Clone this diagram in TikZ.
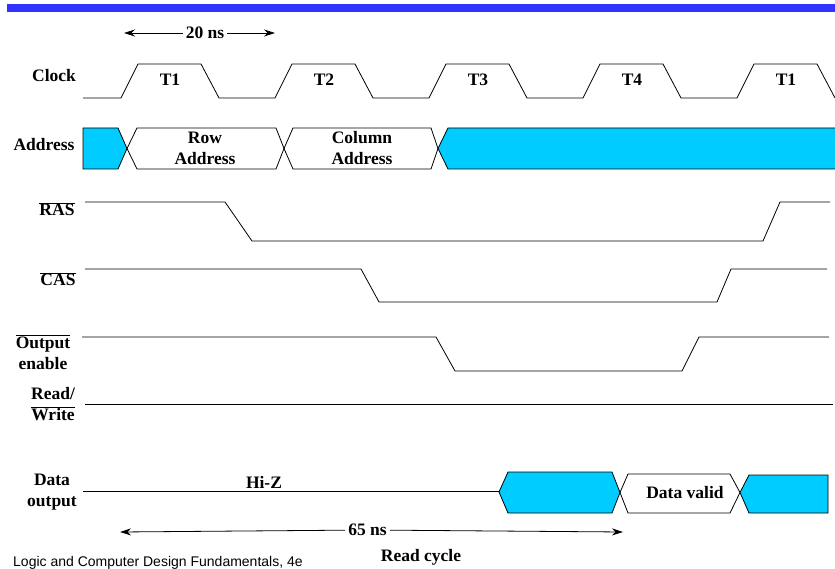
\documentclass[tikz,border=0pt]{standalone}
\usepackage{fontspec}
\setmainfont{Liberation Serif}
\newfontfamily\footfont{Liberation Sans}
\usepackage{tikz}
\usetikzlibrary{shapes,arrows,arrows.meta}
\definecolor{busblue}{RGB}{0,204,255}
\definecolor{barblue}{RGB}{51,51,255}
\tikzstyle{sig} = [line width=0.8pt]
\tikzstyle{bus} = [draw=black, line width=0.8pt, fill=busblue]
\tikzstyle{lbl} = [font=\bfseries\fontsize{17.5}{21}\selectfont, align=center, inner sep=3pt]
\tikzstyle{arrow} = [line width=0.8pt, -{Stealth[length=11pt,width=7pt]}]

\begin{document}
\begin{tikzpicture}[x=1pt,y=-1pt]

\useasboundingbox (0,0) rectangle (835,569);
\fill [barblue] (7,4) rectangle (835,12);

% signal names
\node (clk) [lbl] at (54,76) {Clock};
\node (addr) [lbl] at (44,145) {Address};
\node (ras) [lbl] at (57,209) {$\overline{\mbox{RAS}}$};
\node (cas) [lbl] at (58,279) {$\overline{\mbox{CAS}}$};
\node (oe) [lbl] at (43,352) {$\overline{\mbox{Output}}$\\enable};
\node (rw) [lbl] at (53,404) {Read/\\$\overline{\mbox{Write}}$};
\node (dout) [lbl] at (52,492) {Data\\output};

% clock
\draw [sig] (83,98) \foreach \t in {121,275,429,583,737} { -- (\t,98) -- (\t+17,64) -- (\t+80,64) -- (\t+98,98) };
\foreach \t/\n in {121/T1,275/T2,429/T3,583/T4,737/T1}
  \node [lbl] at (\t+49,80) {\n};

% 20 ns
\node (ns20) [lbl] at (205,33) {20 ns};
\coordinate (ns20a) at (124,33);
\coordinate (ns20b) at (275,33);
\draw [arrow] (ns20) -- (ns20a);
\draw [arrow] (ns20) -- (ns20b);

% address
\draw [bus] (83,128) -- (118,128) -- (127,148.5) -- (118,169) -- (83,169) -- cycle;
\draw [sig] (127,148.5) -- (137,128) -- (276,128) -- (284,148.5) -- (276,169) -- (137,169) -- cycle;
\draw [sig] (284,148.5) -- (293,128) -- (431,128) -- (438,148.5) -- (431,169) -- (293,169) -- cycle;
\fill [busblue] (438,148.5) -- (448,128) -- (835,128) -- (835,169) -- (448,169) -- cycle;
\draw [sig] (835,128) -- (448,128) -- (438,148.5) -- (448,169) -- (835,169);
\node (row) [lbl] at (205,148.5) {Row\\Address};
\node (col) [lbl] at (362,148.5) {Column\\Address};

% strobes
\draw [sig] (85,202) -- (225,202) -- (252,241) -- (763,241) -- (780,202) -- (830,202);
\draw [sig] (85,269) -- (361,269) -- (379,302) -- (717,302) -- (731,269) -- (827,269);
\draw [sig] (82,337) -- (436,337) -- (455,371) -- (682,371) -- (699,337) -- (829,337);
\draw [sig] (85,404) -- (833,404);

% data output
\draw [sig] (83,491) -- (499,491);
\node (hiz) [lbl] at (264,482) {Hi-Z};
\draw [bus] (499,492) -- (508,472) -- (612,472) -- (620,492.5) -- (612,513) -- (508,513) -- cycle;
\draw [sig] (620,492.5) -- (628,474) -- (730,474) -- (740,492.5) -- (730,513) -- (628,513) -- cycle;
\draw [bus] (740,492.5) -- (749,475) -- (828,475) -- (828,513) -- (749,513) -- cycle;
\node (valid) [lbl] at (685,493) {Data valid};

% 65 ns
\node (ns65) [lbl] at (367.5,530) {65 ns};
\coordinate (ns65a) at (120,532);
\coordinate (ns65b) at (623,532);
\draw [arrow] (ns65) -- (ns65a);
\draw [arrow] (ns65) -- (ns65b);
\node (cycle) [lbl] at (421,557) {Read cycle};

\node (foot) [anchor=west, font=\footfont\fontsize{14}{16}\selectfont, inner sep=0pt] at (13,563) {Logic and Computer Design Fundamentals, 4e};

\end{tikzpicture}
\end{document}
